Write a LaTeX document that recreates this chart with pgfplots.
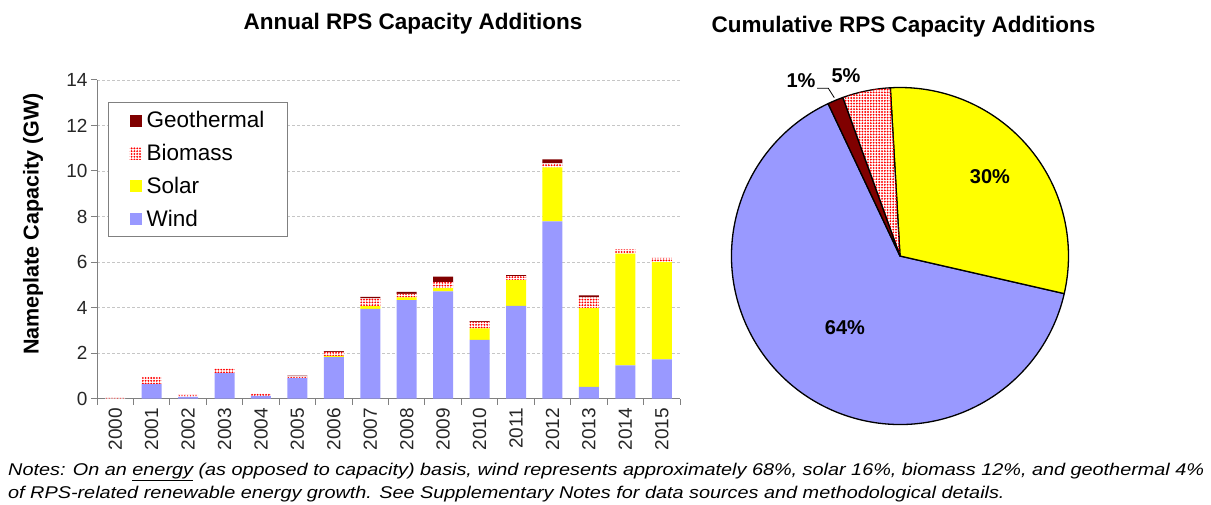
\documentclass[border=0pt]{standalone}
\usepackage{pgfplots}
\pgfplotsset{compat=1.18}
\usepackage{pgfplotstable}
\usepackage{graphicx}
\usepackage{fontspec}
\setmainfont{Liberation Sans}
\usetikzlibrary{patterns.meta}

\definecolor{windc}{HTML}{9999FF}
\definecolor{solarc}{HTML}{FFFF00}
\definecolor{geoc}{HTML}{800000}
\definecolor{bioc}{HTML}{FF0000}
\definecolor{axc}{HTML}{808080}

\tikzset{biopat/.style={fill=white, postaction={pattern={Dots[distance=2.8pt, radius=1.05pt]}, pattern color=bioc}}}

\pgfplotstableread{
x wind solar bio geo
0 0.00 0.00 0.03 0.00
1 0.63 0.00 0.32 0.00
2 0.07 0.00 0.09 0.00
3 1.12 0.00 0.18 0.00
4 0.11 0.00 0.12 0.00
5 0.90 0.00 0.07 0.04
6 1.82 0.05 0.18 0.03
7 3.94 0.12 0.34 0.07
8 4.32 0.13 0.15 0.09
9 4.71 0.14 0.27 0.24
10 2.58 0.50 0.29 0.03
11 4.07 1.13 0.18 0.04
12 7.79 2.37 0.17 0.18
13 0.51 3.46 0.48 0.08
14 1.46 4.91 0.18 0.00
15 1.72 4.28 0.18 0.00
}\bardata

% cumulative shares (percent) and start angle of the pie
\def\pSolar{29.5}
\def\pBio{4.6}
\def\pGeo{1.5}
\def\pWind{64.4}
\def\pStart{-12.9}

\newsavebox\noteone
\newsavebox\notetwo
\newlength\noteonewd

\begin{document}
\sbox\noteone{\fontsize{17}{17}\selectfont\itshape Notes: On an \underline{energy} (as opposed to capacity) basis, wind represents approximately 68\%, solar 16\%, biomass 12\%, and geothermal 4\%}%
\sbox\notetwo{\fontsize{17}{17}\selectfont\itshape of RPS-related renewable energy growth. See Supplementary Notes for data sources and methodological details.}%
\setlength\noteonewd{\wd\noteone}%
\pgfmathsetmacro\nf{1196/\noteonewd}%
\begin{tikzpicture}
\useasboundingbox (0,0) rectangle (1211pt,504pt);

\begin{axis}[
  at={(97pt,105.5pt)}, anchor=south west,
  scale only axis, width=583pt, height=318.5pt,
  ybar stacked, bar width=20pt,
  xmin=-0.5, xmax=15.5, ymin=0, ymax=14,
  xtick={0,...,15},
  xticklabels={2000,2001,2002,2003,2004,2005,2006,2007,2008,2009,2010,2011,2012,2013,2014,2015},
  major x tick style={draw=none},
  minor xtick={-0.5,0.5,...,15.5},
  ytick={0,2,...,14},
  tick align=outside,
  major tick length=6pt, minor tick length=6pt,
  axis lines*=left,
  axis line style={draw=axc, line width=1pt},
  tick style={draw=axc, line width=1pt},
  ymajorgrids, grid style={densely dashed, draw=gray!45, line width=0.8pt},
  /pgf/number format/assume math mode=true,
  yticklabel style={font=\fontsize{19}{19}\selectfont, text=black!85},
  xticklabel style={rotate=90, anchor=east, font=\fontsize{19}{19}\selectfont, text=black!85},
  legend image code/.code={\path[#1, draw=none] (0pt,-6pt) rectangle (12pt,6pt);},
  reverse legend,
  legend cell align=left,
  legend style={at={(0.019,0.931)}, anchor=north west, draw=axc, line width=1.3pt,
    font=\fontsize{22.5}{22.5}\selectfont, row sep=11pt, inner xsep=21pt, inner ysep=7pt,
    /tikz/every odd column/.append style={column sep=3pt}},
]
\addplot[fill=windc, draw=none] table[x=x, y=wind]{\bardata};
\addplot[fill=solarc, draw=none] table[x=x, y=solar]{\bardata};
\addplot[biopat, draw=none] table[x=x, y=bio]{\bardata};
\addplot[fill=geoc, draw=none] table[x=x, y=geo]{\bardata};
\legend{Wind,Solar,Biomass,Geothermal}
\end{axis}

\pgfmathsetmacro\aA{\pStart}
\pgfmathsetmacro\aB{\aA+\pSolar*3.6}
\pgfmathsetmacro\aC{\aB+\pBio*3.6}
\pgfmathsetmacro\aD{\aC+\pGeo*3.6}
\pgfmathsetmacro\aE{\aD+\pWind*3.6}
\begin{axis}[
  at={(900pt,248pt)}, anchor=center,
  scale only axis, width=337pt, height=337pt,
  xmin=-1, xmax=1, ymin=-1, ymax=1,
  hide axis, clip=false,
]
\draw[fill=windc, line width=1.3pt, line join=round] (axis cs:0,0) -- ++(\aD:168.5pt) arc[start angle=\aD, end angle=\aE, radius=168.5pt] -- cycle;
\draw[fill=solarc, line width=1.3pt, line join=round] (axis cs:0,0) -- ++(\aA:168.5pt) arc[start angle=\aA, end angle=\aB, radius=168.5pt] -- cycle;
\draw[biopat, line width=1.3pt, line join=round] (axis cs:0,0) -- ++(\aB:168.5pt) arc[start angle=\aB, end angle=\aC, radius=168.5pt] -- cycle;
\draw[fill=geoc, line width=1.3pt, line join=round] (axis cs:0,0) -- ++(\aC:168.5pt) arc[start angle=\aC, end angle=\aD, radius=168.5pt] -- cycle;
\end{axis}

% titles and labels
\node[font=\bfseries\fontsize{22.5}{22.5}\selectfont] at (413pt,480pt) {Annual RPS Capacity Additions};
\node[font=\bfseries\fontsize{22.5}{22.5}\selectfont] at (903.5pt,477pt) {Cumulative RPS Capacity Additions};
\node[rotate=90, font=\bfseries\fontsize{21.5}{21.5}\selectfont] at (33pt,280pt) {Nameplate Capacity (GW)};

% pie labels
\node[font=\bfseries\fontsize{20}{20}\selectfont] at (990pt,327pt) {30\%};
\node[font=\bfseries\fontsize{20}{20}\selectfont] at (845pt,176pt) {64\%};
\node[font=\bfseries\fontsize{20}{20}\selectfont] at (801pt,423pt) {1\%};
\node[font=\bfseries\fontsize{20}{20}\selectfont] at (846pt,428pt) {5\%};
\draw[line width=0.8pt] (817pt,415.7pt) -- (828.3pt,415.7pt) -- (834.3pt,406.3pt);

% notes
\node[anchor=west, inner sep=0pt] at (8pt,32pt) {\scalebox{\nf}[1]{\usebox\noteone}};
\node[anchor=west, inner sep=0pt] at (8pt,10pt) {\scalebox{\nf}[1]{\usebox\notetwo}};
\end{tikzpicture}
\end{document}
